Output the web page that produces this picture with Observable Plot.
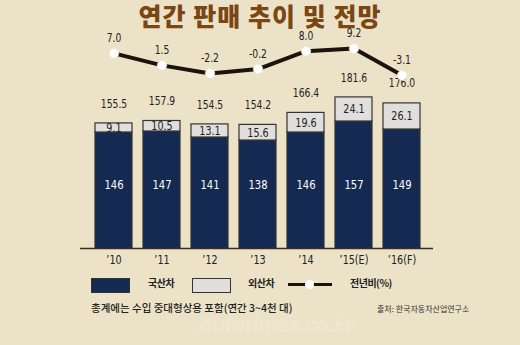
<!DOCTYPE html>
<html><head><meta charset="utf-8">
<script src="https://cdn.jsdelivr.net/npm/d3@7"></script>
<script src="https://cdn.jsdelivr.net/npm/@observablehq/plot@0.6"></script>
<style>
  body{margin:0;background:#ece2c7;}
  #wrap{position:relative;width:520px;height:345px;background:#ece2c7;overflow:hidden;font-family:"Noto Sans CJK KR","Noto Sans",sans-serif;}
  #title{position:absolute;left:0;top:2px;width:520px;text-align:center;font-size:25px;font-weight:900;color:#7a4613;line-height:26px;letter-spacing:1px;}
  .abs{position:absolute;}
  .sw{position:absolute;width:37px;height:13px;border:1px solid #333;}
  .lg{position:absolute;font-size:10px;font-weight:700;color:#222;line-height:14px;letter-spacing:-0.5px;}
  #note{position:absolute;left:91px;top:300px;font-size:10.5px;color:#222;font-weight:500;line-height:16px;}
  #src{position:absolute;left:377px;top:303px;font-size:8px;color:#333;line-height:12px;}
  #wm{position:absolute;left:198px;top:314px;font-family:"DejaVu Sans",sans-serif;font-size:19px;font-weight:700;font-style:italic;color:rgba(255,255,255,0.18);letter-spacing:-1px;}
</style></head>
<body>
<div id="wrap">
  <div id="title">연간 판매 추이 및 전망</div>
  <div id="bars" class="abs" style="left:0;top:0"></div>
  <div id="line" class="abs" style="left:0;top:0"></div>
  <div class="sw" style="left:91px;top:278px;background:#142a52"></div>
  <div class="lg" style="left:148px;top:276px">국산차</div>
  <div class="sw" style="left:192px;top:278px;background:#e0dfdd"></div>
  <div class="lg" style="left:248px;top:276px">외산차</div>
  <div class="abs" style="left:288px;top:283px;width:44px;height:3px;background:#1e130c"></div>
  <div class="abs" style="left:305px;top:280px;width:9px;height:9px;border-radius:50%;background:#fff"></div>
  <div class="lg" style="left:350px;top:276px">전년비(%)</div>
  <div id="note">총계에는 수입 중대형상용 포함(연간 3~4천 대)</div>
  <div id="src">출처: 한국자동차산업연구소</div>
  <div id="wm">Autotimes.co.kr</div>
</div>
<script>
const years = ["’10","’11","’12","’13","’14","’15(E)","’16(F)"];
const domestic = [146,147,141,138,146,157,149];
const imported = [9.1,10.5,13.1,15.6,19.6,24.1,26.1];
const totals = [155.5,157.9,154.5,154.2,166.4,181.6,176.0];
const yoy = [7.0,1.5,-2.2,-0.2,8.0,9.2,-3.1];
const seriesNames = ["국산차","외산차"];

const numFont = '"DejaVu Sans", sans-serif';
const table = years.map((year,i)=>({year, domestic:domestic[i], imported:imported[i], total:totals[i], yoy:yoy[i]}));
const rows = table.flatMap(d=>[
  {year:d.year, type:seriesNames[0], value:d.domestic},
  {year:d.year, type:seriesNames[1], value:d.imported}
]);

const W = 520, ML = 84, MR = 89, PAD = 0.229;

const bars = Plot.plot({
  width: W, height: 275,
  marginLeft: ML, marginRight: MR, marginTop: 78, marginBottom: 27,
  style:{background:"transparent", fontFamily:numFont, overflow:"visible"},
  x:{type:"band", domain:years, padding:PAD, label:null, tickSize:0, tickPadding:7},
  y:{domain:[30,200], axis:null},
  color:{domain:seriesNames, range:["#142a52","#e0dfdd"]},
  marks:[
    Plot.barY(rows, {x:"year", y:"value", fill:"type", stroke:"#333", strokeWidth:1.2, clip:true}),
    Plot.ruleY([30], {stroke:"#3b2d20", strokeWidth:1.5, insetLeft:-4, insetRight:-2}),
    Plot.text(table, {x:"year", y:d=>d.domestic + d.imported/2, text:d=>d.imported.toFixed(1), fill:"#222", fontSize:12}),
    Plot.text(table, {x:"year", frameAnchor:"bottom", dy:-60, text:d=>String(d.domestic), fill:"#fff", fontSize:12.5}),
    Plot.text(table, {x:"year", y:"total", dy:-19, text:d=>d.total.toFixed(1), fill:"#222", fontSize:11.5})
  ]
});
bars.querySelectorAll('[aria-label="x-axis tick label"] text').forEach(t=>{t.style.fontSize="12px";t.style.fill="#222";});
document.getElementById("bars").appendChild(bars);

const line = Plot.plot({
  width: W, height: 100,
  marginLeft: ML, marginRight: MR, marginTop: 42, marginBottom: 21,
  style:{background:"transparent", fontFamily:numFont, overflow:"visible"},
  x:{type:"band", domain:years, padding:PAD, axis:null},
  y:{domain:[-5,12], axis:null},
  marks:[
    Plot.line(table, {x:"year", y:"yoy", stroke:"#1e130c", strokeWidth:4, curve:"linear"}),
    Plot.dot(table, {x:"year", y:"yoy", r:4.8, fill:"#fff", stroke:"#e8e0d0", strokeWidth:0.5}),
    Plot.text(table, {x:"year", y:"yoy", dy:-15, text:d=>d.yoy.toFixed(1), fill:"#222", fontSize:11.5})
  ]
});
document.getElementById("line").appendChild(line);

// narrow the number glyphs to resemble the condensed face of the original
document.querySelectorAll("#bars svg text, #line svg text").forEach(t=>{
  const w = t.getComputedTextLength();
  if (w > 0) {
    t.setAttribute("textLength", (w*0.8).toFixed(1));
    t.setAttribute("lengthAdjust", "spacingAndGlyphs");
  }
});
</script>
</body></html>
